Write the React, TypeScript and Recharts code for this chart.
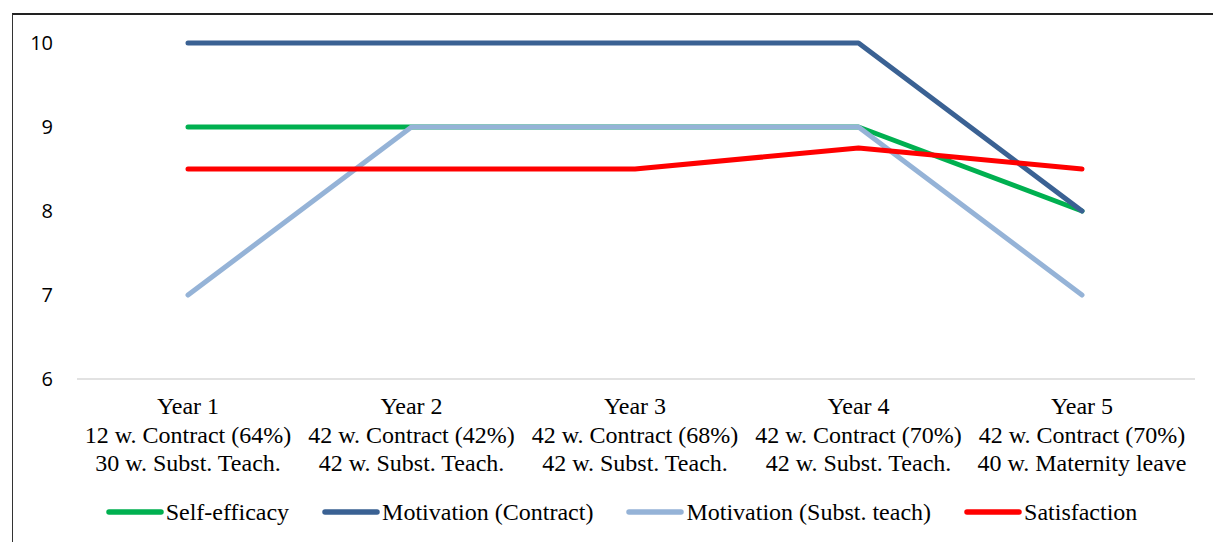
import React from 'react';
import { LineChart, Line, XAxis, YAxis, CartesianGrid, Legend } from 'recharts';

// Categories (three-line tick labels)
const years = ['Year 1', 'Year 2', 'Year 3', 'Year 4', 'Year 5'];
const contractLines = [
  '12 w. Contract (64%)',
  '42 w. Contract (42%)',
  '42 w. Contract (68%)',
  '42 w. Contract (70%)',
  '42 w. Contract (70%)',
];
const leaveLines = [
  '30 w. Subst. Teach.',
  '42 w. Subst. Teach.',
  '42 w. Subst. Teach.',
  '42 w. Subst. Teach.',
  '40 w. Maternity leave',
];

// Series values
const selfEfficacy = [9, 9, 9, 9, 8];
const motivationContract = [10, 10, 10, 10, 8];
const motivationSubst = [7, 9, 9, 9, 7];
const satisfaction = [8.5, 8.5, 8.5, 8.75, 8.5];

const yTicks = [6, 7, 8, 9, 10];

const series = [
  { key: 'selfEfficacy', name: 'Self-efficacy', color: '#00B050' },
  { key: 'motivationContract', name: 'Motivation (Contract)', color: '#3A6193' },
  { key: 'motivationSubst', name: 'Motivation (Subst. teach)', color: '#95B3D7' },
  { key: 'satisfaction', name: 'Satisfaction', color: '#FF0000' },
];

const data = years.map((year, i) => ({
  idx: i,
  selfEfficacy: selfEfficacy[i],
  motivationContract: motivationContract[i],
  motivationSubst: motivationSubst[i],
  satisfaction: satisfaction[i],
}));

const serif = '"Liberation Serif", "Times New Roman", serif';

function XTick(props: any) {
  const { x, y, payload } = props;
  const i = payload.value;
  return (
    <text x={x} y={y} textAnchor="middle" fontFamily={serif} fontSize={24} fill="#000">
      <tspan x={x} dy={27}>{years[i]}</tspan>
      <tspan x={x} dy={28.5}>{contractLines[i]}</tspan>
      <tspan x={x} dy={28.5}>{leaveLines[i]}</tspan>
    </text>
  );
}

function YTick(props: any) {
  const { y, payload } = props;
  return (
    <text x={53} y={y} dy={7} textAnchor="end" fontFamily='"Open Sans", sans-serif' fontSize={20} fill="#000">
      {payload.value}
    </text>
  );
}

function LegendContent() {
  return (
    <div style={{ display: 'flex', justifyContent: 'center', alignItems: 'center', height: 40, fontFamily: serif, fontSize: 24, color: '#000', paddingLeft: 81 }}>
      {series.map((s) => (
        <div key={s.key} style={{ display: 'flex', alignItems: 'center', marginRight: 33 }}>
          <svg width={58} height={10}>
            <line x1={3} y1={5} x2={55} y2={5} stroke={s.color} strokeWidth={5.5} strokeLinecap="round" />
          </svg>
          <span style={{ marginLeft: 2 }}>{s.name}</span>
        </div>
      ))}
    </div>
  );
}

export default function App() {
  return (
    <div style={{ position: 'absolute', left: 0, top: 0, width: 1213, height: 542, background: '#fff', overflow: 'hidden' }}>
      <div style={{ position: 'absolute', left: 12, top: 13, width: 1300, height: 600, borderLeft: '1.5px solid #333', borderTop: '2px solid #222' }} />
      <div style={{ position: 'absolute', left: 0, top: 0 }}>
        <LineChart width={1213} height={542} data={data} margin={{ top: 43, right: 18, left: 0, bottom: 10 }}>
          <CartesianGrid horizontal={false} vertical={false} />
          <XAxis
            dataKey="idx"
            type="category"
            tick={<XTick />}
            tickLine={false}
            axisLine={{ stroke: '#D9D9D9', strokeWidth: 1.5 }}
            height={113}
            interval={0}
            padding={{ left: 111, right: 113 }}
          />
          <YAxis
            domain={[6, 10]}
            ticks={yTicks}
            width={77}
            tick={<YTick />}
            tickLine={false}
            axisLine={false}
          />
          <Legend verticalAlign="bottom" content={<LegendContent />} />
          {series.map((s) => (
            <Line
              key={s.key}
              type="linear"
              dataKey={s.key}
              name={s.name}
              stroke={s.color}
              strokeWidth={5}
              strokeLinecap="round"
              strokeLinejoin="round"
              dot={false}
              activeDot={false}
              isAnimationActive={false}
            />
          ))}
        </LineChart>
      </div>
    </div>
  );
}
